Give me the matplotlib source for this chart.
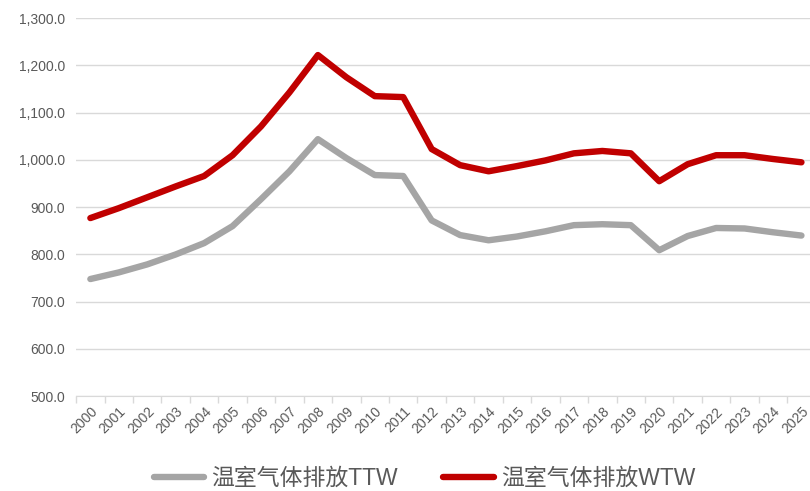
import matplotlib
matplotlib.use('Agg')
import matplotlib.pyplot as plt
import numpy as np

plt.rcParams['font.family'] = ['Liberation Sans', 'Noto Sans CJK SC', 'DejaVu Sans']

years = [str(y) for y in range(2000, 2026)]
ttw = [748, 762, 779, 800, 824, 860, 917, 976, 1044, 1004, 968, 966, 872,
       841, 830, 838, 849, 862, 864, 862, 809, 839, 856, 855, 847, 840]
wtw = [877, 898, 921, 944, 966, 1010, 1071, 1143, 1222, 1175, 1135, 1133, 1023,
       989, 976, 987, 999, 1014, 1019, 1014, 955, 991, 1010, 1010, 1002, 995]
labels = ['温室气体排放TTW', '温室气体排放WTW']
colors = ['#a5a5a5', '#c00000']

fig = plt.figure(figsize=(8.1, 4.91), dpi=100)
# plot area runs slightly past the right edge, as in the source image
ax = fig.add_axes([0.094, 0.193, 0.913, 0.77])

x = np.arange(len(years))
ax.plot(x, ttw, color=colors[0], lw=4.6, label=labels[0], solid_capstyle='round')
ax.plot(x, wtw, color=colors[1], lw=4.6, label=labels[1], solid_capstyle='round')

ax.set_ylim(500, 1300)
ax.set_yticks(np.arange(500, 1301, 100))
ax.set_yticklabels([f'{v:,.1f}' for v in range(500, 1301, 100)])
ax.set_xlim(-0.5, len(years) - 0.5)
ax.set_xticks(x)
ax.set_xticklabels(years, rotation=45, ha='right', va='top', rotation_mode='anchor')
ax.set_xticks(np.arange(-0.5, len(years), 1), minor=True)
ax.tick_params(axis='x', which='major', length=0, pad=6, labelsize=10, colors='#595959')
ax.tick_params(axis='x', which='minor', length=5, color='#d9d9d9', width=1)
ax.tick_params(axis='y', length=0, labelsize=10, colors='#595959', pad=8)

ax.grid(axis='y', color='#d9d9d9', lw=1)
ax.set_axisbelow(True)
for s in ['top', 'right', 'left']:
    ax.spines[s].set_visible(False)
ax.spines['bottom'].set_color('#d9d9d9')

fig.legend(loc='center', bbox_to_anchor=(0.524, 0.026), ncol=2, frameon=False,
           fontsize=16.5, labelcolor='#595959', handlelength=2.2, columnspacing=2.0,
           handletextpad=0.3)

fig.savefig('out.png', dpi=100)
